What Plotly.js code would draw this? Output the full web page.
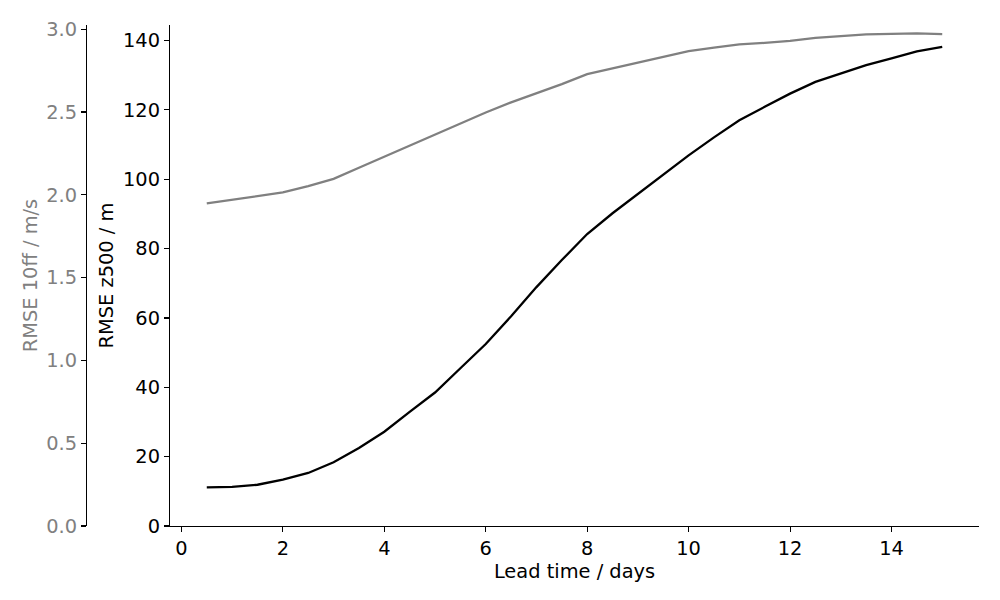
<!DOCTYPE html>
<html>
<head>
<meta charset="utf-8">
<script src="https://cdn.plot.ly/plotly-3.0.1.min.js"></script>
<style>
  html, body { margin: 0; padding: 0; background: #fff; }
  #chart { width: 1000px; height: 600px; }
</style>
</head>
<body>
<div id="chart"></div>
<script>
// lead time in days
const leadTime = [0.5, 1, 1.5, 2, 2.5, 3, 3.5, 4, 4.5, 5, 5.5, 6, 6.5, 7, 7.5,
                  8, 8.5, 9, 9.5, 10, 10.5, 11, 11.5, 12, 12.5, 13, 13.5, 14, 14.5, 15];

// RMSE of 10 m wind speed (m/s), grey curve
const rmse10ff = [1.948, 1.970, 1.992, 2.014, 2.052, 2.096, 2.163, 2.230, 2.297, 2.364,
                  2.430, 2.497, 2.558, 2.611, 2.668, 2.728, 2.762, 2.798, 2.834, 2.867,
                  2.888, 2.908, 2.917, 2.929, 2.947, 2.956, 2.968, 2.971, 2.974, 2.970];

// RMSE of z500 (m), black curve
const rmseZ500 = [11.15, 11.3, 11.9, 13.4, 15.3, 18.4, 22.5, 27.2, 32.9, 38.5,
                  45.5, 52.5, 60.5, 68.9, 76.7, 84.2, 90.2, 95.7, 101.3, 106.9,
                  112.1, 117.0, 120.9, 124.7, 128.1, 130.6, 132.9, 134.9, 136.9, 138.2];

const xTicks = [0, 2, 4, 6, 8, 10, 12, 14];

const FONT = "DejaVu Sans, Verdana, sans-serif";
const FSIZE = 19.4;

let traces = [
    {
        x: leadTime,
        y: rmseZ500,
        mode: 'lines',
        name: 'z500',
        line: { color: 'black', width: 2.3 },
        xaxis: 'x',
        yaxis: 'y'
    },
    {
        x: leadTime,
        y: rmse10ff,
        mode: 'lines',
        name: '10ff',
        line: { color: '#808080', width: 2.3 },
        xaxis: 'x',
        yaxis: 'y2'
    }
];

// plot area spans 10..979 px horizontally
const plotLeft = 10, plotRight = 21;
const plotW = 1000 - plotLeft - plotRight;
const innerStart = (170 - plotLeft) / plotW;
const outerPos = (86 - plotLeft) / plotW;

let layout = {
    width: 1000,
    height: 600,
    margin: { l: plotLeft, r: plotRight, t: 25, b: 74 },
    paper_bgcolor: 'white',
    plot_bgcolor: 'white',
    showlegend: false,
    font: { family: FONT, size: FSIZE, color: 'black' },
    xaxis: {
        domain: [innerStart, 1],
        range: [-0.225, 15.725],
        tickvals: xTicks,
        ticktext: xTicks.map(String),
        showgrid: false,
        zeroline: false,
        showline: true,
        linecolor: 'black',
        linewidth: 1.1,
        ticks: 'outside',
        ticklen: 5,
        tickwidth: 1.1,
        tickcolor: 'black',
        tickfont: { family: FONT, size: FSIZE, color: 'black' },
        title: {
            text: 'Lead time / days',
            font: { family: FONT, size: FSIZE, color: 'black' },
            standoff: 3
        },
        automargin: true
    },
    yaxis: {
        range: [0, 144.5],
        dtick: 20,
        tick0: 0,
        showgrid: false,
        zeroline: false,
        showline: true,
        linecolor: 'black',
        linewidth: 1.1,
        ticks: 'outside',
        ticklen: 5,
        tickwidth: 1.1,
        tickcolor: 'black',
        tickfont: { family: FONT, size: FSIZE, color: 'black' },
        title: {
            text: 'RMSE z500 / m',
            font: { family: FONT, size: FSIZE, color: 'black' },
            standoff: 4
        },
        automargin: true
    },
    yaxis2: {
        overlaying: 'y',
        side: 'left',
        anchor: 'free',
        position: outerPos,
        range: [0, 3.025],
        dtick: 0.5,
        tick0: 0,
        tickformat: '.1f',
        showgrid: false,
        zeroline: false,
        showline: true,
        linecolor: 'black',
        linewidth: 1.1,
        ticks: 'outside',
        ticklen: 5,
        tickwidth: 1.1,
        tickcolor: 'black',
        tickfont: { family: FONT, size: FSIZE, color: '#808080' },
        title: {
            text: 'RMSE 10ff / m/s',
            font: { family: FONT, size: FSIZE, color: '#808080' },
            standoff: 2
        },
        automargin: true
    }
};

Plotly.newPlot('chart', traces, layout, { staticPlot: true, displayModeBar: false });
</script>
</body>
</html>
